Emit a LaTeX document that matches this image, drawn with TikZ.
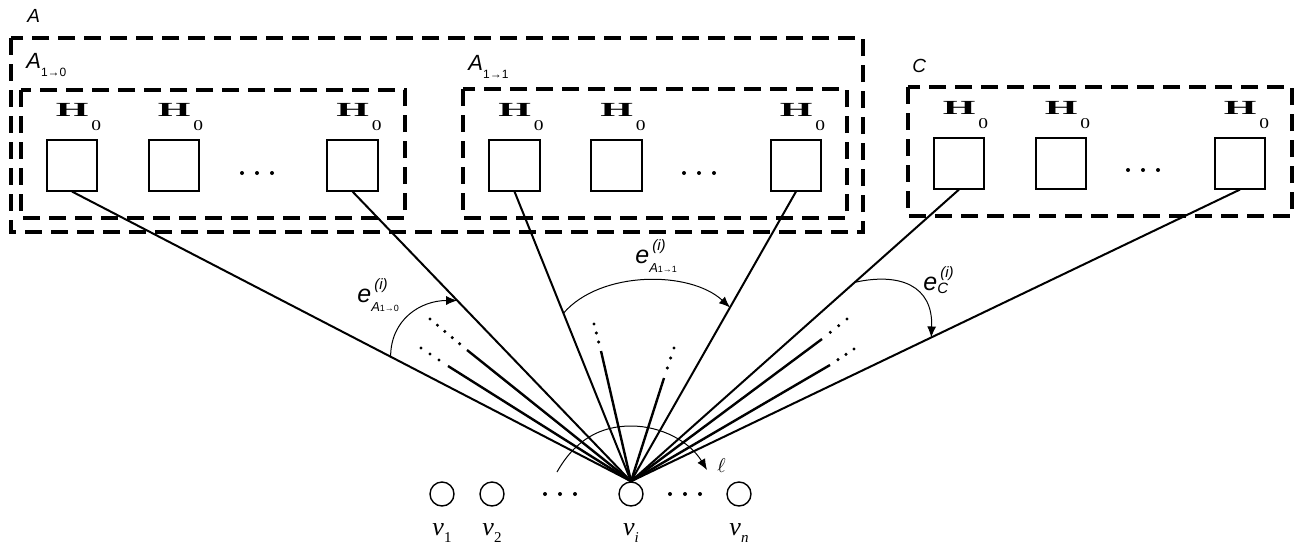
\documentclass[tikz,border=0pt]{standalone}
\usepackage{graphicx}
\usepackage{fontspec}
\setmainfont{Liberation Serif}
\setsansfont{Liberation Sans}
\usetikzlibrary{arrows.meta,calc,positioning}

% label texts
\newcommand{\Hlab}{\scalebox{2.1}[1]{\fontsize{10}{11}\selectfont\bfseries H}\hspace{1.5pt}\raisebox{-7pt}{\scalebox{1.3}[1]{\fontsize{7.5}{8}\selectfont 0}}}
\newcommand{\vlab}[1]{\fontsize{13}{14}\selectfont\textit{v}\raisebox{-3.5pt}{\fontsize{7.5}{8}\selectfont #1}}
\newcommand{\grplab}[1]{\sffamily\itshape\fontsize{11}{12}\selectfont A\raisebox{-4pt}{\upshape\fontsize{6}{7}\selectfont #1}}
\newcommand{\elab}[2]{\sffamily\itshape\fontsize{12.5}{13}\selectfont e\rlap{\hspace{1.5pt}\raisebox{6.5pt}{\fontsize{7.5}{8}\selectfont(i)}}\raisebox{#1}{#2}}

\begin{document}
\begin{tikzpicture}[x=0.5pt,y=-0.5pt,
    sqbox/.style={draw, line width=0.85pt, minimum size=25.2pt, inner sep=0pt,
      label={[inner sep=0pt, label distance=4pt, xshift=3.25pt]above:\Hlab}},
    vnode/.style={circle, draw, line width=0.7pt, minimum size=12pt, inner sep=0pt},
    vtext/.style={inner sep=0pt, label distance=8pt},
    grpbox/.style={line width=2.2pt, dash pattern=on 8.5pt off 4.5pt},
    ray/.style={line width=1pt},
    shortray/.style={line width=1.2pt},
    arcline/.style={line width=0.5pt, -{Latex[length=5.5pt,width=4.5pt]}},
    txt/.style={anchor=base west, inner sep=0pt}]
  \useasboundingbox (0,0) rectangle (1304,546);

  % groups
  \draw[grpbox] (11,38) rectangle (863,232);
  \draw[grpbox] (21,90) rectangle (405,218);
  \draw[grpbox] (463,89) rectangle (847,218);
  \draw[grpbox] (908,87) rectangle (1292,216);
  \node[txt, font=\sffamily\itshape\fontsize{9.5}{10}\selectfont] (lA) at (27,22) {A};
  \node[txt] (lA10) at (26,68) {\grplab{1→0}};
  \node[txt] (lA11) at (468,70) {\grplab{1→1}};
  \node[txt, font=\sffamily\itshape\fontsize{9.5}{10}\selectfont] (lC) at (912,72) {C};

  % H_0 blocks
  \foreach \n/\x in {1/72,2/174,3/352.5} \node[sqbox] (ten\n) at (\x,165.5) {};
  \foreach \n/\x in {1/514.5,2/616.5,3/796} \node[sqbox] (one\n) at (\x,165.5) {};
  \foreach \n/\x in {1/959,2/1061,3/1240} \node[sqbox] (c\n) at (\x,163.5) {};

  % vertices
  \node[vnode, label={[vtext]below:\vlab{1}}] (v1) at (442,494) {};
  \node[vnode, label={[vtext]below:\vlab{2}}] (v2) at (492,494) {};
  \node[vnode, label={[vtext]below:\vlab{\textit{i}}}] (vi) at (631,494) {};
  \node[vnode, label={[vtext]below:\vlab{\textit{n}}}] (vn) at (739,494) {};

  % dots
  \foreach \x/\y in {257/173,699/173,1143/170,560/494,685/494}
    \foreach \d in {-15,0,15} \fill (\x+\d,\y) circle (2);

  % edges
  \foreach \s in {ten1,ten3,one1,one3,c1,c3} \draw[ray] (\s.south) -- (vi.north);
  \foreach \ex/\ey/\fx/\fy/\n in {467/350/430/319/5, 448/366/421/348/3, 601/351/594/324/3,
                                  664/378/674/348/3, 822/339/847/319/3, 830/365/854/349/3} {
    \draw[shortray] (vi.north) -- (\ex,\ey);
    \foreach \k in {1,...,\n} \fill ($(\ex,\ey)!\k/\n!(\fx,\fy)$) circle (1.7);
  }

  % angles
  \coordinate (s10) at ($(ten1.south)!0.57!(vi.north)$);
  \coordinate (t10) at ($(ten3.south)!0.376!(vi.north)$);
  \draw[arcline] (s10) .. controls +(0,-37) and +(-37,0) .. (t10);
  \node[txt] (e10) at (357,302) {\elab{-4.5pt}{\fontsize{6.5}{7}\selectfont A{\upshape\fontsize{4.5}{5}\selectfont 1→0}}};

  \coordinate (s11) at ($(one1.south)!0.42!(vi.north)$);
  \coordinate (t11) at ($(one3.south)!0.4!(vi.north)$);
  \draw[arcline] (s11) .. controls +(37,-43) and +(-40,-37) .. (t11);
  \node[txt] (e11) at (635,263) {\elab{-4.5pt}{\fontsize{6.5}{7}\selectfont A{\upshape\fontsize{4.5}{5}\selectfont 1→1}}};

  \coordinate (sc) at ($(c1.south)!0.318!(vi.north)$);
  \coordinate (tc) at ($(c3.south)!0.507!(vi.north)$);
  \draw[arcline] (sc) .. controls +(45,-10) and +(2,-52) .. (tc);
  \node[txt] (ec) at (923,290) {\elab{-1.5pt}{\fontsize{7.5}{8}\selectfont C}};

  \draw[arcline] (557,472) .. controls (575,440) and (600,426) .. (631,426)
                           .. controls (662,426) and (690,442) .. (707,470);
  \node[txt] (ell) at (717,472) {$\ell$};
\end{tikzpicture}
\end{document}
